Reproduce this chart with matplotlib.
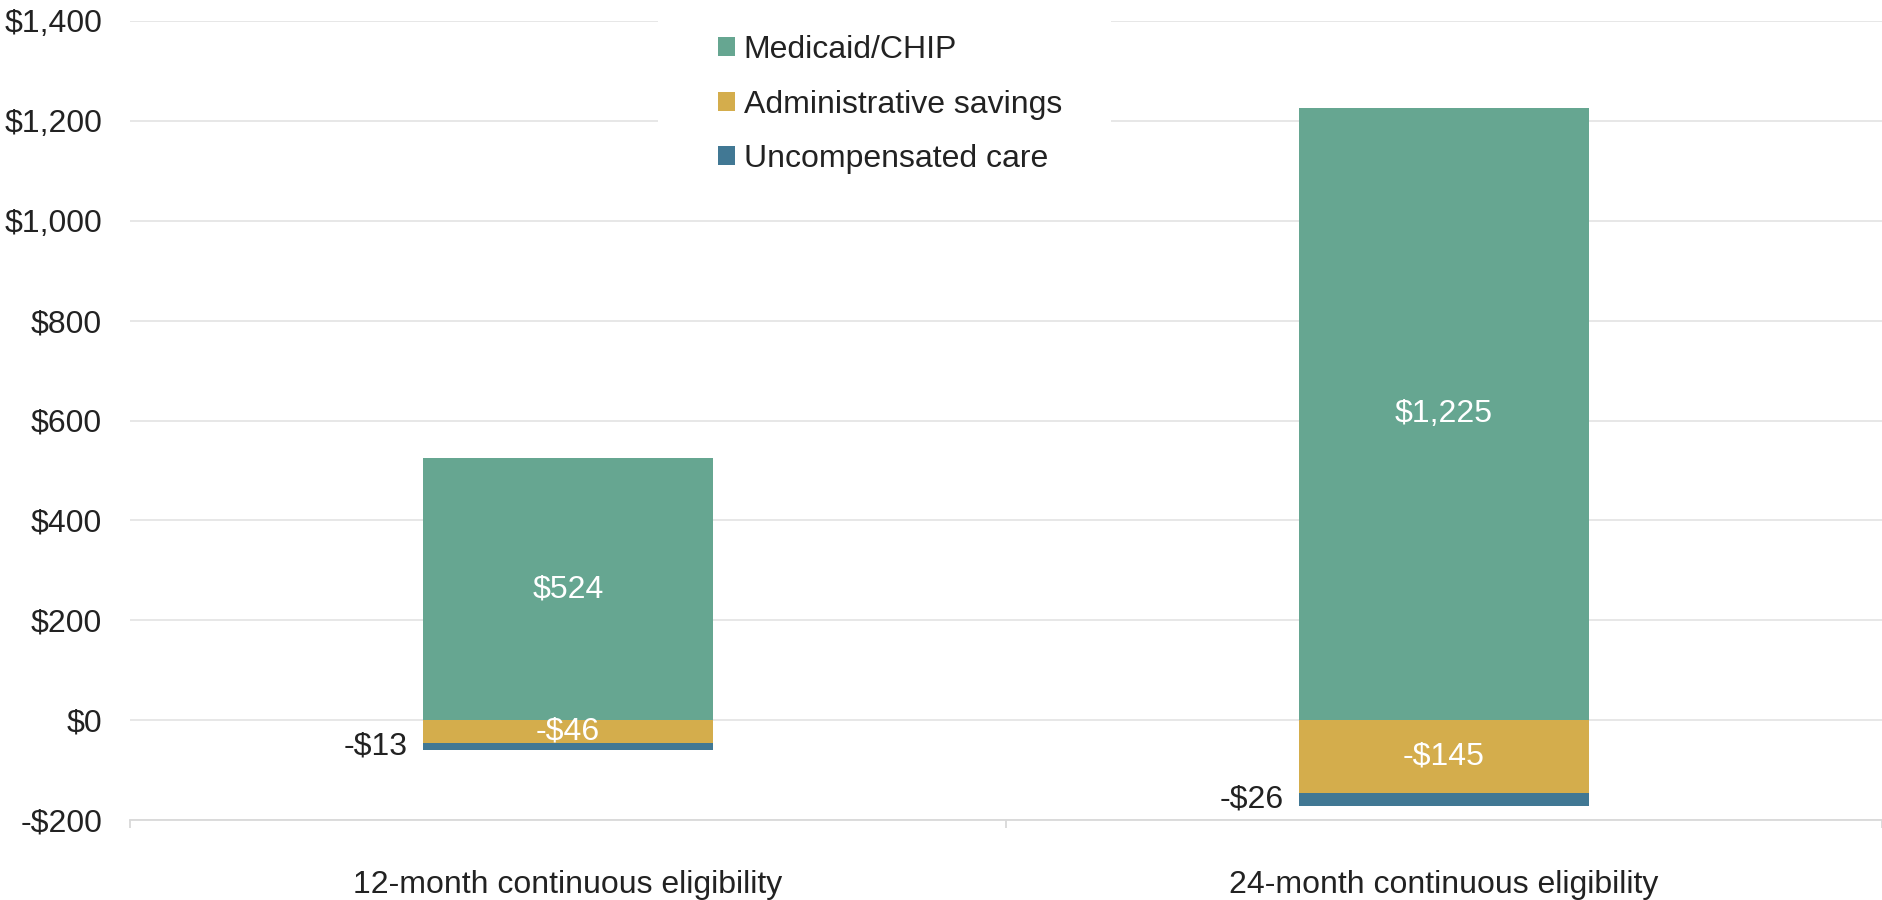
import matplotlib
matplotlib.use("Agg")
import matplotlib.pyplot as plt
from matplotlib.patches import Rectangle
import numpy as np

categories = ["12-month continuous eligibility", "24-month continuous eligibility"]
series_names = ["Medicaid/CHIP", "Administrative savings", "Uncompensated care"]
medicaid = [524, 1225]
admin = [-46, -145]
uncomp = [-13, -26]
y_ticks = [-200, 0, 200, 400, 600, 800, 1000, 1200, 1400]

colors = ["#66A691", "#D4AD4C", "#417894"]
txt = "#222222"

plt.rcParams["font.family"] = ["Liberation Sans", "DejaVu Sans"]
FS = 23

fig = plt.figure(figsize=(18.83, 9.0), dpi=100)
ax = fig.add_axes([130 / 1883, 80 / 900, 1 - 130 / 1883 - 1 / 1883, (820 - 21) / 900])

x = np.arange(len(categories))
w = 0.332
b1 = ax.bar(x, medicaid, w, color=colors[0], label=series_names[0], zorder=3)
b2 = ax.bar(x, admin, w, color=colors[1], label=series_names[1], zorder=3)
b3 = ax.bar(x, uncomp, w, bottom=admin, color=colors[2], label=series_names[2], zorder=3)

for i in range(len(categories)):
    ax.text(x[i], medicaid[i] / 2, f"${medicaid[i]:,}", color="white", ha="center", va="center", fontsize=FS, zorder=5)
    ax.text(x[i], admin[i] / 2, f"-${-admin[i]:,}", color="white", ha="center", va="center", fontsize=FS, zorder=5)
    ax.annotate(f"-${-uncomp[i]:,}", xy=(x[i] - w / 2, admin[i] + uncomp[i] / 2),
                xytext=(-11, 0), textcoords="offset points", ha="right", va="center",
                fontsize=FS, color=txt, zorder=5)

ax.set_xlim(-0.5, 1.5)
ax.set_ylim(-200, 1400)
ax.set_yticks(y_ticks)
ax.set_yticklabels([f"-${-v:,}" if v < 0 else f"${v:,}" for v in y_ticks])
ax.set_xticks(x)
ax.set_xticklabels(categories)
ax.set_xticks([-0.5, 0.5, 1.5], minor=True)
ax.tick_params(axis="y", length=0, pad=20, labelsize=FS, labelcolor=txt)
ax.tick_params(axis="x", which="major", length=0, pad=36, labelsize=FS, labelcolor=txt)
ax.tick_params(axis="x", which="minor", length=6, width=1.3, color="#D9D9D9")

for s in ["top", "right", "left"]:
    ax.spines[s].set_visible(False)
ax.spines["bottom"].set_color("#D9D9D9")
ax.spines["bottom"].set_linewidth(1.3)
ax.spines["bottom"].set_position(("data", -200))

ax.yaxis.grid(True, color="#E3E3E3", linewidth=1.2, zorder=0)
ax.set_axisbelow(True)

def px2x(px):
    return -0.5 + (px - 130) / (1882 - 130) * 2.0

ax.add_patch(Rectangle((px2x(658), 1060), px2x(1111) - px2x(658), 400, facecolor="white",
                       edgecolor="none", zorder=2, clip_on=False))

leg = ax.legend(handles=[b1, b2, b3], labels=series_names, loc="upper left",
                bbox_to_anchor=(718 / 1883, 1 - 35 / 900), bbox_transform=fig.transFigure,
                frameon=False, fontsize=FS, handlelength=0.54, handleheight=0.54,
                handletextpad=0.26, labelspacing=0.77, borderpad=0, borderaxespad=0)
for t in leg.get_texts():
    t.set_color(txt)
leg.set_zorder(6)

fig.savefig("out.png", dpi=100)
